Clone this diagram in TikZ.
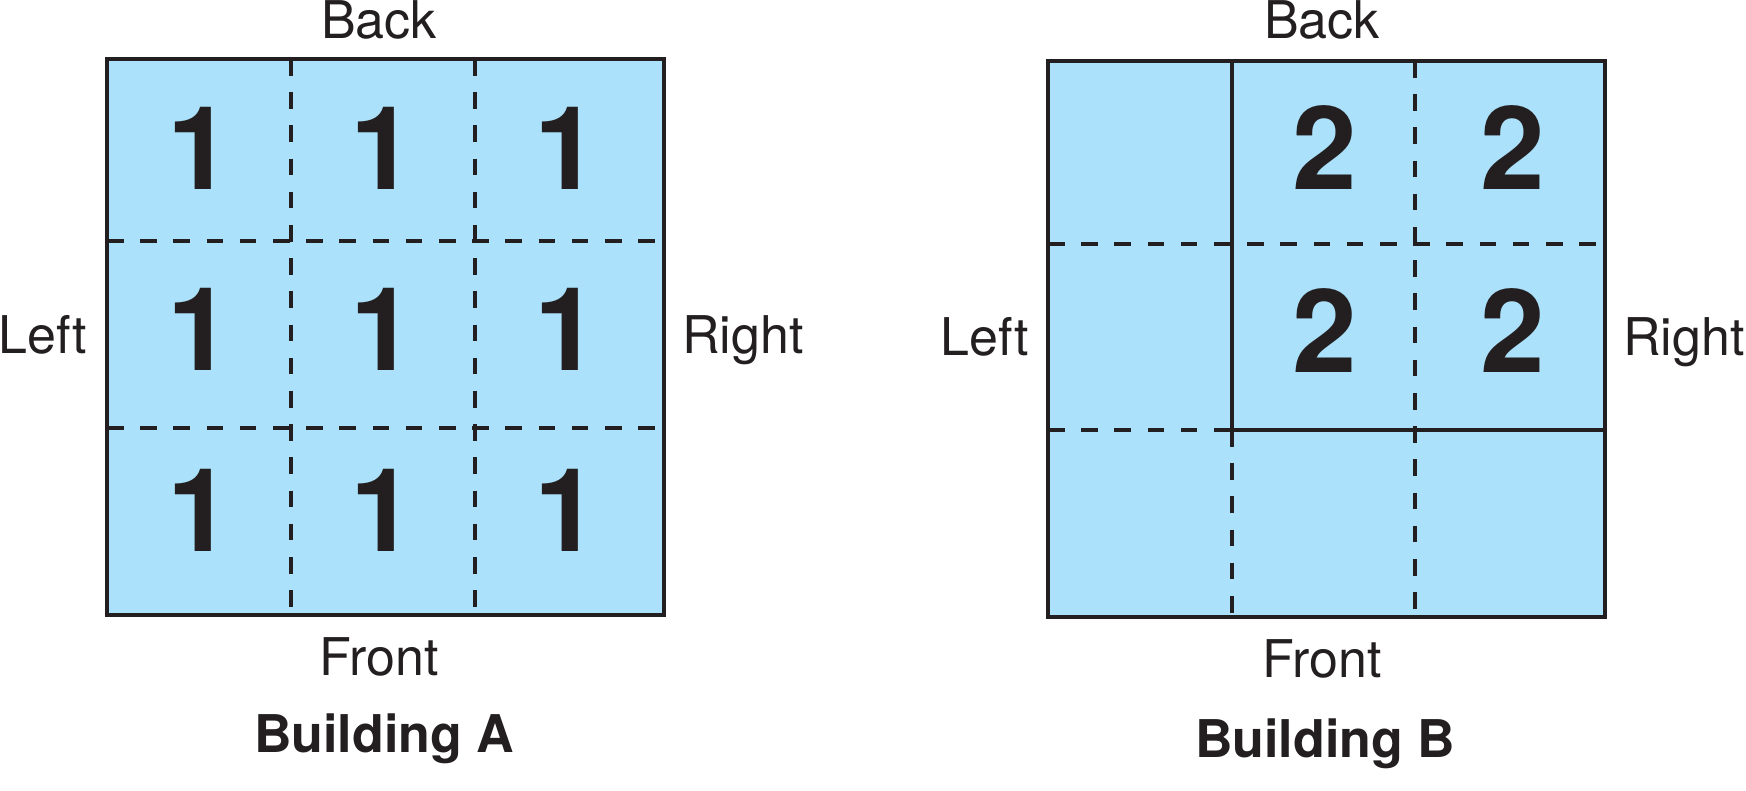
\documentclass[tikz,border=0pt]{standalone}
\usepackage{fontspec}
\setmainfont{TeX Gyre Heros}
\definecolor{roomblue}{RGB}{171,225,250}
\definecolor{inkdark}{RGB}{35,31,32}
\begin{document}
\begin{tikzpicture}[
    x=0.5pt, y=-0.5pt,
    wall/.style={draw=inkdark, line width=2pt},
    split/.style={draw=inkdark, line width=2pt, dash pattern=on 8.3pt off 8.3pt},
    side/.style={anchor=base, text=inkdark, font=\fontsize{26}{30}\selectfont, inner sep=0pt},
    title/.style={anchor=base, text=inkdark, font=\fontsize{26}{30}\selectfont\bfseries, inner sep=0pt},
    num/.style={anchor=base, text=inkdark, font=\fontsize{58}{62}\selectfont\bfseries, inner sep=0pt}
]
\useasboundingbox (0,0) rectangle (1746,791);

% Building A
\fill[roomblue] (107,59) rectangle (664,615);
\draw[split] (291,59) -- (291,615);
\draw[split] (475,59) -- (475,615);
\draw[split] (107,241) -- (664,241);
\draw[split] (107,428) -- (664,428);
\draw[wall] (107,59) rectangle (664,615);
\foreach \r/\yy in {1/190,2/371,3/551}
  \foreach \c/\xx in {1/200,2/383,3/567}
    \node[num] (a\r\c) at (\xx,\yy) {1};
\node[side] (backA) at (379,39) {Back};
\node[side] (frontA) at (379,675) {Front};
\node[side] (leftA) at (43,354) {Left};
\node[side] (rightA) at (743,354) {Right};
\node[title] (nameA) at (384,752) {Building A};

% Building B
\fill[roomblue] (1048,61) rectangle (1605,617);
\draw[split] (1048,244) -- (1605,244);
\draw[split] (1048,430) -- (1232,430);
\draw[split] (1415,61) -- (1415,617);
\draw[split] (1232,430) -- (1232,617);
\draw[wall] (1048,61) rectangle (1605,617);
\draw[wall] (1232,61) rectangle (1605,430);
\foreach \r/\yy in {1/190,2/372}
  \foreach \c/\xx in {1/1325,2/1513}
    \node[num] (b\r\c) at (\xx,\yy) {2};
\node[side] (backB) at (1322,39) {Back};
\node[side] (frontB) at (1322,677) {Front};
\node[side] (leftB) at (985,356) {Left};
\node[side] (rightB) at (1684,356) {Right};
\node[title] (nameB) at (1325,757) {Building B};
\end{tikzpicture}
\end{document}
